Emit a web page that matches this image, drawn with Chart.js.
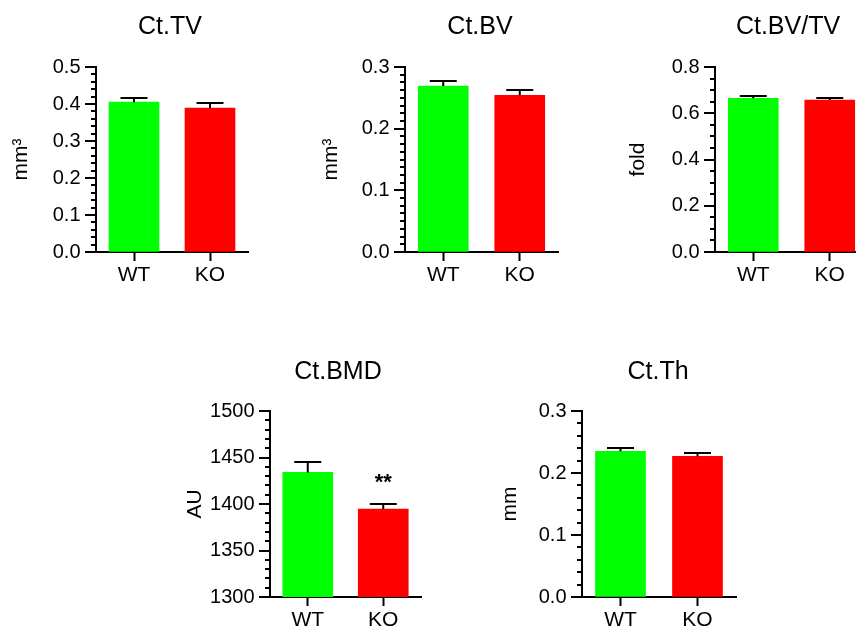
<!DOCTYPE html>
<html>
<head>
<meta charset="utf-8">
<script src="https://cdn.jsdelivr.net/npm/chart.js@4"></script>
<style>
  html, body { margin: 0; padding: 0; background: #fff; overflow: hidden; width: 856px; height: 631px; }
  body { position: relative; }
  canvas { position: absolute; }
</style>
</head>
<body>
<canvas id="c0"></canvas>
<canvas id="c1"></canvas>
<canvas id="c2"></canvas>
<canvas id="c3"></canvas>
<canvas id="c4"></canvas>
<script>
// data
const groups = ['WT', 'KO'];
const titles = ['Ct.TV', 'Ct.BV', 'Ct.BV/TV', 'Ct.BMD', 'Ct.Th'];
const units = ['mm³', 'mm³', 'fold', 'AU', 'mm'];

const tvMean = [0.405, 0.389];
const tvSem = [0.012, 0.013];
const bvMean = [0.269, 0.254];
const bvSem = [0.008, 0.008];
const bvtvMean = [0.665, 0.657];
const bvtvSem = [0.010, 0.010];
const bmdMean = [1434, 1394.5];
const bmdSem = [11, 5.5];
const thMean = [0.235, 0.227];
const thSem = [0.006, 0.005];

const means = [tvMean, bvMean, bvtvMean, bmdMean, thMean];
const sems = [tvSem, bvSem, bvtvSem, bmdSem, thSem];
const sigMarks = [['', ''], ['', ''], ['', ''], ['', '**'], ['', '']];

const yMin = [0, 0, 0, 1300, 0];
const yMax = [0.5, 0.3, 0.8, 1500, 0.3];
const majorStep = [0.1, 0.1, 0.2, 50, 0.1];
const minorStep = [0.02, 0.0125, 0.05, 10, 0.02];
const decimals = [1, 1, 1, 0, 1];

const barColors = ['#00ff00', '#ff0000'];
const FONT = '"Liberation Sans", Arial, sans-serif';

// where each panel sits on the page
const panels = [
    { left: 6,   top: 0,   w: 252, h: 300, padTop: 67, xh: 48, ytp: 3.1, tdx: 74, tdy: 33 },
    { left: 315, top: 0,   w: 253, h: 300, padTop: 67, xh: 48, ytp: 4.1, tdx: 75, tdy: 33 },
    { left: 625, top: 0,   w: 253, h: 300, padTop: 67, xh: 48, ytp: 0.4, tdx: 73, tdy: 33 },
    { left: 180, top: 330, w: 251, h: 301, padTop: 81, xh: 34, ytp: 2.4, tdx: 68, tdy: 32 },
    { left: 492, top: 330, w: 254, h: 301, padTop: 81, xh: 34, ytp: 5.4, tdx: 76, tdy: 32 }
];

Chart.defaults.font.family = FONT;
Chart.defaults.color = '#000';

// minor/major ticks, error bars, significance marks, panel title
const extras = {
    id: 'extras',
    afterDraw(chart, args, o) {
        const ctx = chart.ctx;
        const a = chart.chartArea;
        const y = chart.scales.y;
        ctx.save();
        ctx.strokeStyle = '#000';
        ctx.fillStyle = '#000';
        ctx.lineWidth = 2;

        const n = Math.round((y.max - y.min) / o.minor);
        for (let k = 0; k <= n; k++) {
            const v = y.min + k * o.minor;
            const r = (v - y.min) / o.major;
            const len = Math.abs(r - Math.round(r)) < 1e-6 ? 11 : 5;
            const py = Math.round(y.getPixelForValue(v));
            ctx.beginPath();
            ctx.moveTo(a.left - len, py);
            ctx.lineTo(a.left, py);
            ctx.stroke();
        }

        const meta = chart.getDatasetMeta(0);
        meta.data.forEach((bar, i) => {
            const top = Math.round(y.getPixelForValue(o.mean[i] + o.sem[i]));
            ctx.beginPath();
            ctx.moveTo(bar.x, bar.y);
            ctx.lineTo(bar.x, top);
            ctx.moveTo(bar.x - 13.5, top);
            ctx.lineTo(bar.x + 13.5, top);
            ctx.stroke();
            if (o.sig[i]) {
                ctx.font = 'bold 22px ' + FONT;
                ctx.textAlign = 'center';
                ctx.textBaseline = 'alphabetic';
                ctx.fillText(o.sig[i], bar.x, top - 15);
            }
        });

        ctx.font = '25px ' + FONT;
        ctx.textAlign = 'center';
        ctx.textBaseline = 'alphabetic';
        ctx.fillText(o.title, a.left + o.tdx, a.top - o.tdy);
        ctx.restore();
    }
};

function makeChart(i) {
    const p = panels[i];
    const cv = document.getElementById('c' + i);
    cv.width = p.w;
    cv.height = p.h;
    cv.style.left = p.left + 'px';
    cv.style.top = p.top + 'px';

    new Chart(cv, {
        type: 'bar',
        data: {
            labels: groups,
            datasets: [{
                data: means[i],
                backgroundColor: barColors,
                barThickness: 50
            }]
        },
        options: {
            responsive: false,
            animation: false,
            devicePixelRatio: 1,
            layout: { padding: { top: p.padTop, right: 10, left: 0, bottom: 0 } },
            plugins: {
                legend: { display: false },
                tooltip: { enabled: false },
                extras: {
                    mean: means[i], sem: sems[i], sig: sigMarks[i],
                    minor: minorStep[i], major: majorStep[i],
                    title: titles[i], tdx: p.tdx, tdy: p.tdy
                }
            },
            scales: {
                x: {
                    z: 1,
                    grid: { display: true, drawOnChartArea: false, offset: false, tickLength: 9, tickWidth: 2, tickColor: '#000' },
                    border: { color: '#000', width: 2 },
                    ticks: { font: { size: 21 }, padding: 2, color: '#000' },
                    afterFit(s) { s.height = p.xh; }
                },
                y: {
                    z: 1,
                    min: yMin[i],
                    max: yMax[i],
                    grid: { display: true, drawOnChartArea: false, drawTicks: true, tickLength: 11, tickColor: 'rgba(0,0,0,0)' },
                    border: { color: '#000', width: 2 },
                    ticks: {
                        stepSize: majorStep[i],
                        font: { size: 20 },
                        padding: 4.5,
                        color: '#000',
                        callback: v => Number(v).toFixed(decimals[i])
                    },
                    title: { display: true, text: units[i], font: { size: 21 }, color: '#000', padding: { top: p.ytp, bottom: 0 } },
                    afterFit(s) { s.width = 90; }
                }
            }
        },
        plugins: [extras]
    });
}

for (let i = 0; i < 5; i++) makeChart(i);
</script>
</body>
</html>
